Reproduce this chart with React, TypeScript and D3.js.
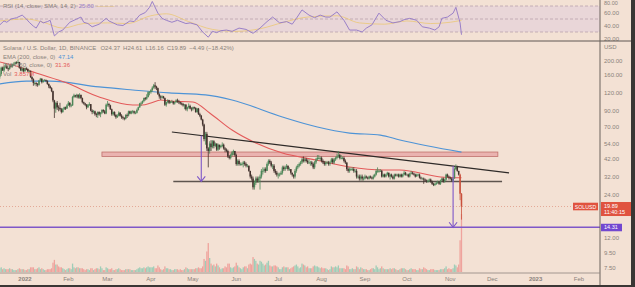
import React from 'react';
import * as d3 from 'd3';

const W = 635;
const H = 287;

// ---------- DATA ----------
const startDate = '2021-12-14';
const firstOpen = 156;
const closes = [
  163,180,172,182,185,178,176,186,183,189,190,196,194,197,180,172,177,170,
  178,176,170,170,155,150,141,141,139,137,147,151,143,147,148,146,139,134,130,124,107,94,103,96,95,93,89,93,96,94,99,
  103,99,99,113,116,114,117,112,117,111,104,102,100,96,100,101,91,89,90,86,85,89,86,88,92,90,87,100,
  101,99,93,86,89,85,82,84,88,84,82,81,80,85,84,90,87,90,90,88,88,92,96,102,103,106,111,110,113,122,122,
  126,131,136,133,130,118,114,112,114,111,100,104,107,103,105,105,102,104,107,105,104,102,101,99,100,93,96,98,94,93,
  96,95,89,94,86,84,79,73,58,63,50,48,54,51,56,52,54,49,53,51,52,53,50,49,48,44,43,45,47,48,45,
  39,41,39,39,39,40,39,38,38,35,32,31,27,29,31,30,31,32,35,35,36,35,39,41,40,38,38,35,34,33,
  33,33,34,37,36,37,38,36,36,34,33,32,35,37,38,39,40,42,41,42,41,40,40,40,39,37,40,42,43,43,43,
  41,40,39,40,40,39,40,42,40,42,43,44,45,43,43,43,41,40,36,35,36,36,36,35,35,32,32,31,32,31,31,
  32,31.5,31,32,31.5,31,32,33,35,35,35,35,32,33,32,33,34,32,33,32,31,33,32.5,33,32,33,32,33,34,33,
  33,32,33.5,34,33.5,33,32,33,33,31.5,31,31,30.5,30,29.5,30,30.5,29.5,28.5,28,28.5,29,29.5,28.5,30,31,29.5,30.5,33,32,31.5,
  31,30,31,36,37.5,35,33,24.37,19.89,
];
const highs = [
  166,183,183,185,191,190,180,188,190,192,196,198,199,204,197,182,181,180,
  180,181,178,174,172,157,152,144,143,141,148,153,152,149,150,149,147,140,136,132,125,108,104,106,99,103,95,95,97,97,101,
  106,104,101,115,119,117,119,118,120,117,112,105,103,101,101,104,101,93,92,91,88,90,90,89,93,93,92,102,
  106,103,100,94,90,90,86,86,90,89,86,84,82,86,87,91,91,91,92,91,90,94,97,103,105,107,112,113,118,124,124,
  128,134,139,143,135,131,120,116,116,115,112,105,109,108,106,108,106,105,109,110,108,105,104,103,101,101,97,102,100,96,
  97,97,96,95,95,88,85,80,74,65,65,51,56,57,57,57,55,54,54,53,53,55,54,51,50,49,45,46,48,49,48,
  46,42,42,40,40,41,41,40,39,38,35,33,32,30,32,32,32,33,36,37,37,37,40,42,42,41,39,39,36,35,
  34,34,35,38,38,38,39,38,37,36,34,33,36,38,39,40,41,43,44,43,43,42,42,41,41,40,41,43,45,45,44,
  44,42,41,41,41,41,41,43,43,43,44,46,48,46,45,44,44,42,40,37,37,37,37,37,36,36,33,33,33,33,32,
  33,32.5,32,32.5,32.5,32,33,33.5,36,37,36,36,35.5,33.5,33.5,33.5,34.5,34,33.5,33.5,32.5,33.5,33.5,33.5,33.5,33.5,33.5,33.5,35,34.5,
  33.5,33.5,34,35,34.5,34,33.5,33.5,33.5,33.5,32,31.5,31.5,31,30.5,30.5,31,31,30,29,29,29.5,30,29.5,30.5,31.5,31.5,31,33.5,33.5,32.5,
  32,31.5,31.5,37,38.8,38,35,33.5,24.61,
];
const lows = [
  151,158,171,168,178,176,170,174,180,180,186,189,190,192,177,170,169,167,
  169,173,168,167,153,146,135,136,134,133,135,145,140,142,145,143,137,130,129,122,104,81,88,92,90,91,87,88,92,92,94,
  98,96,96,98,111,112,111,110,110,109,102,100,98,93,95,98,90,86,87,84,82,81,84,82,86,88,86,86,
  97,96,92,84,84,83,80,81,83,83,80,79,78,79,81,83,86,86,87,86,86,87,91,95,98,101,104,107,108,112,116,
  119,123,129,128,126,117,110,108,110,110,98,97,102,101,102,103,100,100,103,103,101,100,99,97,93,91,90,94,93,90,
  91,93,88,88,85,82,78,71,56,53,48,37,46,48,50,50,51,48,48,49,50,51,49,47,47,43,42,42,44,45,44,
  38,38,38,38,38,37,38,37,37,34.5,31,30,26,26,28,29,29,26,31,33,34,34,35,38,39,37,36,34,33,32,
  31,32,33,33,35,35,36,35,35,33,32,31,31,34,36,37,38,39,40,40,40,39,39,38,38,36,36,39,41,42,41,
  40,39,38,38,39,38,38,40,39,39,41,42,43,42,42,42,40,39,35,34,34,35,35,34,34,31,31,30,30,30,30,
  30.5,31,30.5,30.5,31,30.5,30.5,31.5,32.5,34,34,34.5,31.5,31.5,31.5,31.5,32.5,31.5,30.5,31.5,30.5,30.5,32,32,31.5,31.5,31.5,31.5,32.5,32.5,
  32.5,31.5,31.5,33,33,32.5,31.5,32,32.5,31,30.5,30.5,28.5,29.5,29,29,29.5,29,28,27.5,27.5,28,28.5,28,28,30,29,29,30,31.5,30.5,
  30.5,29.5,29.5,31,35.5,34.5,32.5,22,16.16,
];
const volumes = [
  4,5,3,4,3,3,3,4,3,3,2,2,2,3,4,3,3,3,
  2,2,3,3,5,5,5,3,3,4,5,3,4,3,2,2,3,3,3,4,10,13,8,8,6,5,5,4,3,2,3,
  4,4,3,9,5,4,5,5,4,4,4,3,2,3,3,2,4,4,2,3,4,4,3,6,4,2,2,5,
  4,3,3,4,2,2,3,3,4,3,2,2,2,3,3,3,3,2,2,2,2,3,4,5,4,4,5,4,5,6,5,
  5,5,6,4,4,7,5,3,2,3,6,4,4,3,3,2,2,3,3,3,2,3,2,2,3,5,4,3,3,3,
  3,3,4,4,5,4,4,6,14,12,22,31,15,9,7,8,6,9,7,5,3,4,4,6,5,9,9,5,4,5,6,
  10,7,5,4,3,5,6,6,4,8,9,8,16,14,12,9,8,12,11,9,7,8,10,12,7,6,6,7,7,6,
  5,3,3,5,6,5,5,5,3,4,5,6,7,8,6,4,5,9,8,7,5,6,4,4,4,6,7,6,6,5,4,
  5,4,4,4,3,2,3,6,5,5,6,5,7,4,4,4,4,3,7,6,3,3,4,3,3,6,5,3,5,4,3,
  3,3,2,2,3,4,4,3,7,5,3,4,6,4,3,3,3,3,4,3,4,4,3,2,2,3,4,4,4,3,
  2,2,3,4,3,3,3,2,2,4,3,3,5,4,3,2,2,3,3,3,2,2,2,2,3,3,3,4,6,3,4,
  3,3,4,8,7,5,8,34,62,
];

const ema200Dates = ['2021-12-14','2022-01-02','2022-01-19','2022-02-23','2022-03-19','2022-04-14','2022-05-10','2022-05-29','2022-07-04','2022-07-29','2022-08-21','2022-09-12','2022-09-26','2022-11-09'];
const ema200Values = [139,145.5,145.5,132.5,126.3,120.5,116.7,107.7,82.3,70.2,63.8,61.8,57.1,47.14];

const ema50Dates = ['2021-12-14','2021-12-28','2022-01-07','2022-01-31','2022-02-23','2022-03-19','2022-03-26','2022-04-01','2022-04-08','2022-04-15','2022-05-01','2022-05-13','2022-05-29','2022-06-15','2022-07-04','2022-07-28','2022-08-21','2022-09-14','2022-09-26','2022-10-25','2022-11-09'];
const ema50Values = [197,182,168,141,113,99.5,99.5,102.8,107.7,106,104.4,87.7,66.9,54.5,46.5,41.6,37.2,35.5,35.5,31.8,31.36];

const rsiDates = ['2021-12-14','2021-12-17','2021-12-19','2021-12-22','2021-12-26','2021-12-30','2022-01-02','2022-01-04','2022-01-07','2022-01-09','2022-01-12','2022-01-14','2022-01-17','2022-01-19','2022-01-22','2022-01-25','2022-01-28','2022-02-02','2022-02-07','2022-02-10','2022-02-12','2022-02-15','2022-02-18','2022-02-23','2022-02-28','2022-03-02','2022-03-05','2022-03-08','2022-03-12','2022-03-17','2022-03-20','2022-03-24','2022-03-28','2022-03-31','2022-04-02','2022-04-06','2022-04-09','2022-04-12','2022-04-16','2022-04-20','2022-04-26','2022-04-29','2022-05-04','2022-05-08','2022-05-12','2022-05-15','2022-05-18','2022-05-21','2022-05-25','2022-05-29','2022-06-03','2022-06-08','2022-06-13','2022-06-18','2022-06-23','2022-06-27','2022-07-02','2022-07-07','2022-07-11','2022-07-14','2022-07-18','2022-07-23','2022-07-27','2022-07-31','2022-08-04','2022-08-07','2022-08-12','2022-08-17','2022-08-21','2022-08-26','2022-08-30','2022-09-02','2022-09-06','2022-09-11','2022-09-16','2022-09-21','2022-09-26','2022-09-29','2022-10-03','2022-10-08','2022-10-12','2022-10-17','2022-10-21','2022-10-24','2022-10-26','2022-10-30','2022-11-03','2022-11-05','2022-11-08','2022-11-09'];
const rsiValues = [41,47,45,50,52,56,50,45,39,36,47,44,46,48,24,30,33,45,50,53,45,43,38,42,51,47,44,41,40,47,46,56,60,68,77,59,51,48,45,48,43,44,41,30,22,31,29,32,33,31,36,34,28,36,46,53,44,46,42,51,64,56,52,56,53,53,61,48,33,33,30,36,41,59,48,44,46,49,51,48,38,36,33,38,51,53,59,68,44,25.8];

const rsiMaDates = ['2021-12-14','2022-01-02','2022-01-14','2022-01-28','2022-02-12','2022-03-01','2022-03-15','2022-04-01','2022-04-12','2022-04-28','2022-05-15','2022-06-01','2022-06-18','2022-07-05','2022-07-22','2022-08-12','2022-08-28','2022-09-15','2022-10-01','2022-10-18','2022-11-01','2022-11-09'];
const rsiMaValues = [47,50,45,36,43,44,43,55,58,46,34,31,35,45,53,55,44,42,47,43,45,48];

const priceTicks = [200, 160, 120, 90, 70, 54, 42, 32, 24, 12, 9.5, 7.5];
const rsiTicks = [60, 40, 20];
const rsiTopTick = 80;
const monthTickDates = ['2022-01-01','2022-02-01','2022-03-01','2022-04-01','2022-05-01','2022-06-01','2022-07-01','2022-08-01','2022-09-01','2022-10-01','2022-11-01','2022-12-01','2023-01-01','2023-02-01'];
const monthTickLabels = ['2022','Feb','Mar','Apr','May','Jun','Jul','Aug','Sep','Oct','Nov','Dec','2023','Feb'];

// drawings (date, price)
const trendline = { d1: '2022-04-16', p1: 64.9, d2: '2022-12-13', p2: 33.9 };
const supportLine = { d1: '2022-04-17', d2: '2022-12-08', p: 29.6 };
const resistZone = { d1: '2022-02-25', d2: '2022-12-05', pTop: 47.2, pBot: 44.0 };
const targetPrice = 14.31;
const lastPrice = 19.89;
const arrow1Date = '2022-05-07';
const arrow2Date = '2022-11-03';

// ---------- HELPERS ----------
const pd = (s: string) => {
  const [y, m, d] = s.split('-').map(Number);
  return new Date(Date.UTC(y, m - 1, d));
};

const BG = '#f3e1d4';
const TXT = '#8a817b';
const UP = '#4c8658';
const DOWN = '#43322d';
const FONT = '"Liberation Sans", Arial, sans-serif';

export default function App() {
  const x = d3.scaleUtc().domain([pd('2022-01-01'), pd('2023-02-01')]).range([25, 579]);
  const y = d3.scaleLog().domain([200, 7.5]).range([61, 268]);
  const yR = d3.scaleLinear().domain([70, 30]).range([6, 32]);
  const yV = d3.scaleLinear().domain([0, 60]).range([272, 216]);

  const start = pd(startDate);
  const n = Math.min(closes.length, highs.length, lows.length, volumes.length);
  const candles = d3.range(n).map((i) => ({
    date: d3.utcDay.offset(start, i),
    open: i === 0 ? firstOpen : closes[i - 1],
    close: closes[i],
    high: highs[i],
    low: lows[i],
    vol: volumes[i],
  }));

  const lineP = d3.line<[Date, number]>().x((d) => x(d[0])).y((d) => y(d[1])).curve(d3.curveMonotoneX);
  const lineR = d3.line<[Date, number]>().x((d) => x(d[0])).y((d) => yR(d[1]));
  const lineRs = d3.line<[Date, number]>().x((d) => x(d[0])).y((d) => yR(d[1])).curve(d3.curveMonotoneX);

  const ema200 = ema200Dates.map((d, i) => [pd(d), ema200Values[i]] as [Date, number]);
  const ema50 = ema50Dates.map((d, i) => [pd(d), ema50Values[i]] as [Date, number]);
  const rsi = rsiDates.map((d, i) => [pd(d), rsiValues[i]] as [Date, number]);
  const rsiMa = rsiMaDates.map((d, i) => [pd(d), rsiMaValues[i]] as [Date, number]);

  const tl = (dt: Date) => {
    const x1 = x(pd(trendline.d1)), x2 = x(pd(trendline.d2));
    const y1 = y(trendline.p1), y2 = y(trendline.p2);
    return y1 + ((x(dt) - x1) / (x2 - x1)) * (y2 - y1);
  };

  const arrows = [
    { date: pd(arrow1Date), to: supportLine.p },
    { date: pd(arrow2Date), to: targetPrice },
  ];

  const axisX = 600;

  return (
    <svg width={W} height={H} style={{ position: 'absolute', left: 0, top: 0, display: 'block' }} fontFamily={FONT}>
      <defs>
        <clipPath id="mainClip"><rect x={0} y={42} width={axisX} height={231} /></clipPath>
        <clipPath id="rsiClip"><rect x={0} y={0} width={axisX} height={41} /></clipPath>
      </defs>
      <rect x={0} y={0} width={W} height={H} fill={BG} />

      {/* RSI pane */}
      <rect x={0} y={yR(70)} width={axisX} height={yR(30) - yR(70)} fill="#e9d6d8" />
      {[70, 50, 30].map((v) => (
        <line key={v} x1={0} x2={axisX} y1={yR(v)} y2={yR(v)} stroke="#b9a2ad" strokeWidth={0.8} strokeDasharray="3,2" />
      ))}
      <g clipPath="url(#rsiClip)">
        <path d={lineRs(rsiMa) || ''} fill="none" stroke="#ecc66a" strokeWidth={0.9} opacity={0.8} />
        <path d={lineR(rsi) || ''} fill="none" stroke="#9a80c8" strokeWidth={1} />
      </g>
      <text x={3} y={8} fontSize={6} fill={TXT}>
        RSI (14, close, SMA, 14, 2)
        <tspan fill="#9a80c8" dx={3}>25.80</tspan>
        <tspan fill="#e3bf62" dx={3}>———</tspan>
      </text>
      <text x={604} y={4.8} fontSize={5.5} fill={TXT}>{rsiTopTick.toFixed(2)}</text>
      {rsiTicks.map((v) => (
        <text key={v} x={604} y={yR(v) + 2} fontSize={6} fill={TXT}>{v.toFixed(2)}</text>
      ))}

      {/* Pane separator */}
      <line x1={0} x2={631} y1={41} y2={41} stroke="#5e5752" strokeWidth={1} />

      {/* Main pane */}
      <g clipPath="url(#mainClip)">
        {candles.map((c, i) => {
          const up = c.close >= c.open;
          return (
            <rect key={'v' + i} x={x(c.date) - 0.65} width={1.3} y={yV(c.vol)} height={yV(0) - yV(c.vol)}
              fill={up ? '#9fcdb7' : '#efa39d'} />
          );
        })}
        <rect x={x(pd(resistZone.d1))} y={y(resistZone.pTop)} width={x(pd(resistZone.d2)) - x(pd(resistZone.d1))}
          height={y(resistZone.pBot) - y(resistZone.pTop)} fill="#eab3b0" stroke="#c0706c" strokeWidth={0.8} />
        <path d={lineP(ema200) || ''} fill="none" stroke="#4d93d6" strokeWidth={1.2} />
        <path d={lineP(ema50) || ''} fill="none" stroke="#e35a5a" strokeWidth={1.1} />
        <line x1={0} x2={axisX} y1={y(lastPrice)} y2={y(lastPrice)} stroke="#e09a88" strokeWidth={0.8} strokeDasharray="1,2" />
        <line x1={0} x2={axisX} y1={y(targetPrice)} y2={y(targetPrice)} stroke="#7e57c8" strokeWidth={1.3} />
        <line x1={x(pd(supportLine.d1))} x2={x(pd(supportLine.d2))} y1={y(supportLine.p)} y2={y(supportLine.p)}
          stroke="#5d544e" strokeWidth={1.6} />
        <line x1={x(pd(trendline.d1))} x2={x(pd(trendline.d2))} y1={y(trendline.p1)} y2={y(trendline.p2)}
          stroke="#2e2a28" strokeWidth={1.1} />
        {candles.map((c, i) => {
          const up = c.close >= c.open;
          const col = up ? UP : (i >= n - 2 ? '#c9503c' : DOWN);
          const cx = x(c.date);
          const yT = y(Math.max(c.open, c.close));
          const yB = y(Math.min(c.open, c.close));
          return (
            <g key={'c' + i}>
              <line x1={cx} x2={cx} y1={y(c.high)} y2={y(c.low)} stroke={col} strokeWidth={0.8} />
              <rect x={cx - 0.75} width={1.5} y={yT} height={Math.max(0.8, yB - yT)} fill={col} />
            </g>
          );
        })}
        {arrows.map((a, i) => {
          const ax = x(a.date);
          const y0 = tl(a.date);
          const y1 = y(a.to);
          return (
            <g key={'a' + i} stroke="#7e57c8" strokeWidth={1.1} fill="none">
              <line x1={ax} x2={ax} y1={y0} y2={y1} />
              <path d={`M${ax - 4},${y1 - 5}L${ax},${y1}L${ax + 4},${y1 - 5}`} />
            </g>
          );
        })}
      </g>

      {/* Legend */}
      <g fontSize={6} fill={TXT}>
        <text x={3} y={50}>Solana / U.S. Dollar, 1D, BINANCE
          <tspan dx={4}>O24.37</tspan><tspan dx={3}>H24.61</tspan><tspan dx={3}>L16.16</tspan>
          <tspan dx={3}>C19.89</tspan><tspan dx={3}>−4.49 (−18.42%)</tspan>
        </text>
        <text x={3} y={58.5}>EMA (200, close, 0)<tspan dx={3} fill="#4d93d6">47.14</tspan></text>
        <text x={3} y={67}>EMA (50, close, 0)<tspan dx={3} fill="#e35a5a">31.36</tspan></text>
        <text x={3} y={75.5}>Vol<tspan dx={3} fill="#e35a5a">3.857M</tspan></text>
      </g>

      {/* Price axis */}
      <line x1={axisX} x2={axisX} y1={0} y2={285} stroke="#6b625c" strokeWidth={1} />
      <text x={604} y={49} fontSize={6} fill={TXT}>USD</text>
      {priceTicks.map((v) => (
        <text key={v} x={604} y={y(v) + 2} fontSize={6} fill={TXT}>{v.toFixed(2)}</text>
      ))}
      <rect x={573} y={y(lastPrice) - 3.8} width={25} height={7.6} fill="#e0533f" />
      <text x={585.5} y={y(lastPrice) + 2} fontSize={5.2} fill="#fff" textAnchor="middle">SOLUSD</text>
      <rect x={601} y={y(lastPrice) - 4.5} width={30} height={14} fill="#e0533f" />
      <text x={604} y={y(lastPrice) + 1.5} fontSize={5.5} fill="#fff">19.89</text>
      <text x={604} y={y(lastPrice) + 7.8} fontSize={5.5} fill="#fff">11:40:15</text>
      <rect x={601} y={y(targetPrice) - 3.5} width={21} height={7.5} fill="#7248d0" />
      <text x={604} y={y(targetPrice) + 2} fontSize={5.5} fill="#fff">14.31</text>

      {/* Time axis */}
      <line x1={0} x2={axisX} y1={273} y2={273} stroke="#8d847e" strokeWidth={0.8} />
      {monthTickDates.map((d, i) => (
        <text key={d} x={x(pd(d))} y={281} fontSize={6} textAnchor="middle" fill={TXT}
          fontWeight={/^\d{4}$/.test(monthTickLabels[i]) ? 'bold' : 'normal'}>
          {monthTickLabels[i]}
        </text>
      ))}

      <rect x={631} y={0} width={4} height={H} fill="#3a3634" />
      <rect x={0} y={285} width={W} height={2} fill="#3a3634" />
    </svg>
  );
}
